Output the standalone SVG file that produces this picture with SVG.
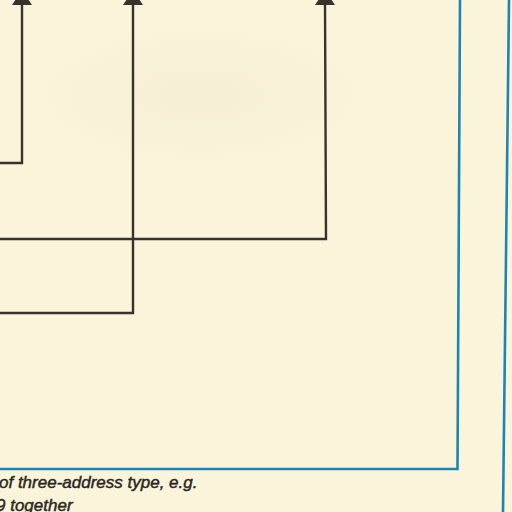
<svg xmlns="http://www.w3.org/2000/svg" width="512" height="512" viewBox="0 0 512 512">
  <defs>
    <style>
      .wire { fill: none; stroke: #37332c; stroke-width: 2.4; stroke-linejoin: miter; }
      .frame { fill: none; stroke: #1b86b6; stroke-width: 2.6; }
      .cap { font-family: "Liberation Sans", Arial, sans-serif; font-style: italic; font-size: 17px; fill: #2a2622; stroke: #2a2622; stroke-width: 0.45; }
    </style>
    <radialGradient id="blot" cx="0.5" cy="0.5" r="0.5">
      <stop offset="0" stop-color="#ece3c8" stop-opacity="0.35"/>
      <stop offset="1" stop-color="#ece3c8" stop-opacity="0"/>
    </radialGradient>
  </defs>
  <rect x="0" y="0" width="512" height="512" fill="#faf4da"/>
  <ellipse cx="200" cy="95" rx="170" ry="70" fill="url(#blot)"/>

  <g id="frame">
    <polyline class="frame" points="460,0 457.5,469 0,469"/>
    <line class="frame" x1="509" y1="0" x2="503" y2="512"/>
  </g>

  <g id="connectors">
    <polyline class="wire" points="0,163 22,163 22,2"/>
    <polyline class="wire" points="0,313 133,313 133,2"/>
    <polyline class="wire" points="0,239 326,239 325,2"/>
    <path d="M22,-10 L32,5 L12,5 Z" fill="#37332c"/>
    <path d="M133,-10 L143,5 L123,5 Z" fill="#37332c"/>
    <path d="M325,-10 L335,5 L315,5 Z" fill="#37332c"/>
  </g>

  <g id="caption">
    <text class="cap" x="-1" y="488">of three-address type, e.g.</text>
    <text class="cap" x="-4" y="511">9 together</text>
  </g>
</svg>
